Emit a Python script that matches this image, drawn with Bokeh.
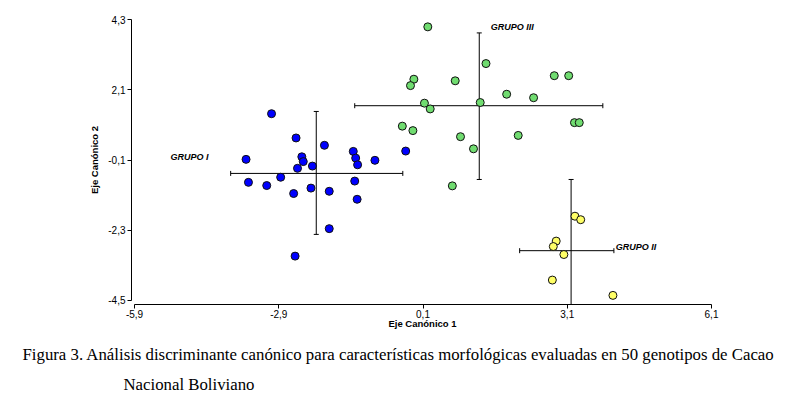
from bokeh.plotting import figure
from bokeh.models import Range1d, FixedTicker, Title, CustomJSTickFormatter
from bokeh.embed import file_html
from bokeh.resources import INLINE
from bokeh.core.properties import value
import math

# ---- data ----
x_ticks = [-5.9, -2.9, 0.1, 3.1, 6.1]
y_ticks = [-4.5, -2.3, -0.1, 2.1, 4.3]

# Grupo I (blue)
g1_x = [-3.05, -2.54, -1.95, -1.35, -2.42, -1.30, -3.58, -0.90, -2.39, -1.26, -2.20, -2.51,
        -2.86, -3.53, -1.32, -3.15, -2.23, -1.85, -2.59, -1.27, -1.85, -2.56, -0.26]
g1_y = [1.35, 0.59, 0.36, 0.17, 0.00, -0.04, -0.08, -0.11, -0.15, -0.25, -0.29, -0.36,
        -0.64, -0.80, -0.76, -0.90, -0.98, -1.08, -1.15, -1.33, -2.25, -3.11, 0.18]
# Grupo III (green)
g3_x = [0.20, 1.41, 2.83, 3.13, -0.09, 0.77, -0.16, 1.84, 2.40, 0.13, 1.29, 0.25,
        3.25, 3.35, -0.33, -0.11, 0.88, 2.08, 1.15, 0.71]
g3_y = [4.07, 2.92, 2.54, 2.54, 2.43, 2.38, 2.23, 1.96, 1.85, 1.68, 1.70, 1.50,
        1.07, 1.07, 0.96, 0.82, 0.63, 0.67, 0.25, -0.91]
# Grupo II (yellow)
g2_x = [3.26, 3.38, 2.87, 2.81, 3.03, 2.79, 4.05]
g2_y = [-1.86, -1.97, -2.64, -2.81, -3.06, -3.86, -4.34]

# group crosses (horizontal and vertical extents)
groups = ["GRUPO I", "GRUPO III", "GRUPO II"]
cross_h_x0 = [-3.90, -1.32, 2.11]
cross_h_x1 = [-0.32, 3.84, 4.07]
cross_h_y = [-0.52, 1.60, -2.94]
cross_v_x = [-2.12, 1.27, 3.18]
cross_v_y0 = [-2.43, -0.71, -5.19]
cross_v_y1 = [1.42, 3.88, -0.71]
label_x = [-5.15, 1.51, 4.11]
label_y = [-0.02, 4.08, -2.84]

caption1 = ("Figura 3. Análisis discriminante canónico para características morfológicas "
            "evaluadas en 50 genotipos de Cacao")
caption2 = "Nacional Boliviano"

# ---- figure ----
p = figure(width=790, height=395, output_backend="svg", toolbar_location=None,
           x_range=Range1d(-5.9624, 6.1416), y_range=Range1d(-4.6253, 4.4253),
           min_border_left=131, min_border_right=77, min_border_top=15, min_border_bottom=91)
p.outline_line_color = None
p.background_fill_color = "white"
p.border_fill_color = "white"
p.xgrid.visible = False
p.ygrid.visible = False

fmt = CustomJSTickFormatter(code="return tick.toFixed(1).replace('.', ',');")
for ax, ticks, bounds in ((p.xaxis[0], x_ticks, (-5.9, 6.1)), (p.yaxis[0], y_ticks, (-4.5, 4.3))):
    ax.ticker = FixedTicker(ticks=ticks)
    ax.formatter = fmt
    ax.bounds = bounds
    ax.minor_tick_line_color = None
    ax.major_tick_in = 0
    ax.major_tick_out = 4
    ax.major_label_standoff = 2
    ax.axis_line_color = "black"
    ax.major_tick_line_color = "black"
    ax.major_label_text_font = "Liberation Sans"
    ax.major_label_text_font_size = "10px"
    ax.major_label_text_color = "black"
    ax.axis_label_text_font = "Liberation Sans"
    ax.axis_label_text_font_size = "9.5px"
    ax.axis_label_text_font_style = "bold"
    ax.axis_label_text_color = "black"

p.xaxis.axis_label = "Eje Canónico 1"
p.xaxis.axis_label_standoff = -3
p.xaxis.major_label_standoff = 1
p.yaxis.axis_label = "Eje Canónico 2"
p.yaxis.axis_label_standoff = 5

# crosses
p.segment(x0=cross_h_x0, y0=cross_h_y, x1=cross_h_x1, y1=cross_h_y, line_color="black", line_width=1)
p.segment(x0=cross_v_x, y0=cross_v_y0, x1=cross_v_x, y1=cross_v_y1, line_color="black", line_width=1)
p.scatter(x=cross_h_x0 + cross_h_x1, y=cross_h_y + cross_h_y, marker="dash", size=5,
          angle=math.pi / 2, line_color="black")
p.scatter(x=cross_v_x + cross_v_x, y=cross_v_y0 + cross_v_y1, marker="dash", size=5,
          line_color="black")

p.text(x=label_x, y=label_y, text=groups, text_font=value("Liberation Sans"),
       text_font_size="9px", text_font_style="bold italic", text_baseline="middle",
       text_align="left", text_color="black")

p.scatter(g1_x, g1_y, size=8, fill_color="#0000ff", line_color="#101010", line_width=1)
p.scatter(g3_x, g3_y, size=8, fill_color="#70dc70", line_color="#101010", line_width=1)
p.scatter(g2_x, g2_y, size=8, fill_color="#ffff66", line_color="#101010", line_width=1)

p.add_layout(Title(text=caption1, align="left", offset=-109, standoff=22,
                   text_font="Liberation Serif", text_font_size="16.8px", text_line_height=0.8,
                   text_font_style="normal", text_color="black"), "below")
p.add_layout(Title(text=caption2, align="left", offset=-8, standoff=0,
                   vertical_align="top", text_line_height=0.8,
                   text_font="Liberation Serif", text_font_size="16.8px",
                   text_font_style="normal", text_color="black"), "below")

open("out.html", "w").write(file_html(p, INLINE))
